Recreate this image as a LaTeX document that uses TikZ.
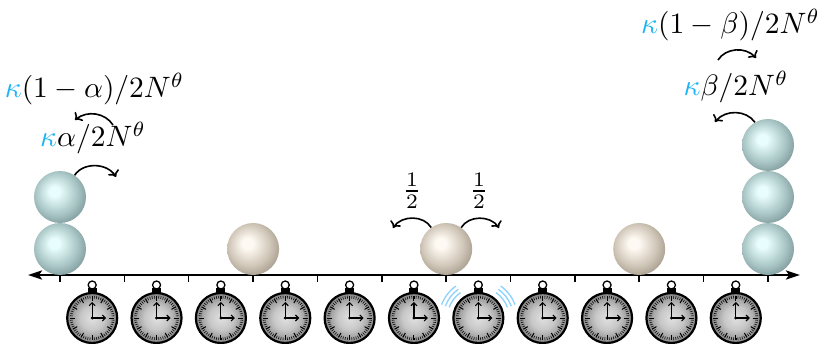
\documentclass[tikz,border=0pt]{standalone}
\usetikzlibrary{arrows.meta,bending}

% colours
\definecolor{kap}{RGB}{30,180,245}
\definecolor{wave}{RGB}{140,210,250}
\definecolor{bhi}{RGB}{232,253,253}
\definecolor{bmid}{RGB}{170,198,198}
\definecolor{blo}{RGB}{100,126,126}
\definecolor{shi}{RGB}{254,250,243}
\definecolor{smid}{RGB}{208,198,184}
\definecolor{slo}{RGB}{140,130,116}

% sphere and dial shadings
\pgfdeclareradialshading{bluesphere}{\pgfpoint{-6bp}{6bp}}{%
  color(0bp)=(bhi); color(5bp)=(bhi); color(20bp)=(bmid);
  color(36bp)=(blo); color(50bp)=(blo)}
\pgfdeclareradialshading{sandsphere}{\pgfpoint{-6bp}{6bp}}{%
  color(0bp)=(shi); color(5bp)=(shi); color(20bp)=(smid);
  color(36bp)=(slo); color(50bp)=(slo)}
\pgfdeclareradialshading{dial}{\pgfpoint{0bp}{0bp}}{%
  color(0bp)=(black!12); color(12bp)=(black!22);
  color(25bp)=(black!48); color(50bp)=(black!48)}

\tikzset{
  sphere/.style={circle, minimum size=52pt, inner sep=0pt, shade, shading=bluesphere},
  sandball/.style={circle, minimum size=52pt, inner sep=0pt, shade, shading=sandsphere},
  rate/.style={inner sep=0pt, scale=2.95, transform shape},
  hop/.style={line width=1.6pt, -{Computer Modern Rightarrow[length=6pt,width=12pt,flex]}},
  handtip/.style={line width=1.1pt, -{Straight Barb[length=3pt,width=6pt]}},
  ripple/.style={wave, line width=1.3pt},
  stopwatch/.pic={
    \draw[line width=1.3pt, fill=white] (0,33) circle (4);
    \fill (-4.5,25) rectangle (4.5,29.5);
    \draw[line width=2.2pt, shading=dial] (0,0) circle (25);
    \foreach \a in {0,6,...,354} \draw[line width=0.55pt] (\a:19.5) -- (\a:22.3);
    \foreach \a in {0,30,...,330} \draw[line width=1pt] (\a:17.3) -- (\a:22.3);
    \draw[handtip] (0,0) -- (0,16);
    \draw[handtip] (0,0) -- (14,0);
    \fill (0,0) circle (1.6);
  }
}

\begin{document}
\begin{tikzpicture}[x=1pt, y=1pt]
\useasboundingbox (0,0) rectangle (825,343);
\clip (0,0) rectangle (825,343);

% lattice axis with sites
\coordinate (axL) at (28,68);
\coordinate (axR) at (800,68);
\draw[line width=2.2pt, {Stealth[length=14pt,width=9pt,inset=3pt]}-{Stealth[length=14pt,width=9pt,inset=3pt]}] (axL) -- (axR);
\foreach \k in {0,...,11}
  \draw[line width=1.5pt] ({60+64.36*\k},68) -- ++(0,-7.5);

% clocks between neighbouring sites
\foreach \k in {0,...,10}
  \pic (clk\k) at ({60+64.36*(\k+0.5)},25) {stopwatch};

% ringing clock
\foreach \r in {31,35,39} {
  \draw[ripple] (478.3,25) ++(125:\r) arc[start angle=125, end angle=160, radius=\r];
  \draw[ripple] (478.3,25) ++(20:\r) arc[start angle=20, end angle=55, radius=\r];
}

% particles
\node[sphere] (L1) at (60,94) {};
\node[sphere] (L2) at (60,146) {};
\node[sandball] (S1) at (253.1,94) {};
\node[sandball] (S2) at (446.2,94) {};
\node[sandball] (S3) at (639.2,94) {};
\node[sphere] (R1) at (768,94) {};
\node[sphere] (R2) at (768,146) {};
\node[sphere] (R3) at (768,198) {};

% rates
\node[rate] (la1) at (94.5,254) {$\textcolor{kap}{\kappa}(1-\alpha)/2N^\theta$};
\node[rate] (la2) at (93,205) {$\textcolor{kap}{\kappa}\alpha/2N^\theta$};
\node[rate] (ra1) at (730.5,318) {$\textcolor{kap}{\kappa}(1-\beta)/2N^\theta$};
\node[rate] (ra2) at (736,256) {$\textcolor{kap}{\kappa}\beta/2N^\theta$};
\node[rate] (hl) at (412,152) {$\frac12$};
\node[rate] (hr) at (479,152) {$\frac12$};

% jumps
\coordinate (a1e) at (116,166);
\coordinate (a2s) at (113,218);
\coordinate (a2e) at (75,223);
\coordinate (a3s) at (718,283);
\coordinate (a3e) at (756,285);
\coordinate (a4e) at (715,221);
\coordinate (a5e) at (393,115);
\coordinate (a6e) at (499,115);
\draw[hop] (L2.56) to[bend left=60] (a1e);
\draw[hop] (a2s) to[bend right=50] (a2e);
\draw[hop] (a3s) to[bend left=55] (a3e);
\draw[hop] (R3.120) to[bend right=55] (a4e);
\draw[hop] (S2.125) to[bend right=60] (a5e);
\draw[hop] (S2.55) to[bend left=60] (a6e);
\end{tikzpicture}
\end{document}
